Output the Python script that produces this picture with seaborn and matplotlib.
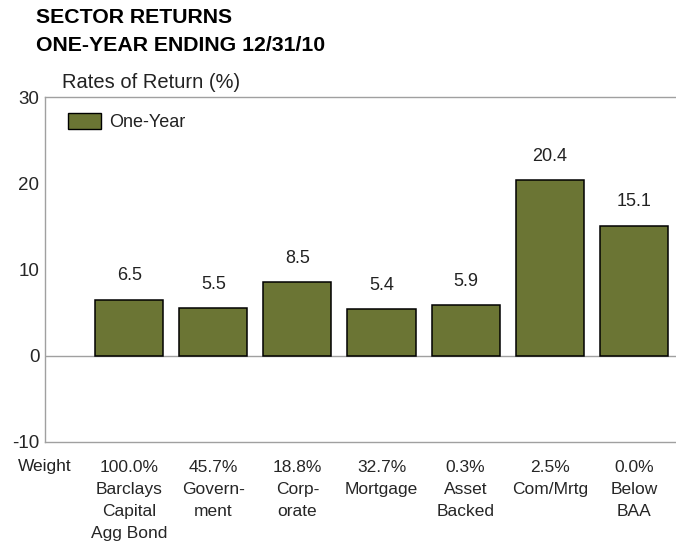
import matplotlib
matplotlib.use('Agg')
import matplotlib.pyplot as plt
from matplotlib.patches import Patch
import seaborn as sns

# Data
sectors = ['Barclays\nCapital\nAgg Bond', 'Govern-\nment', 'Corp-\norate', 'Mortgage',
           'Asset\nBacked', 'Com/Mrtg', 'Below\nBAA']
weights = ['100.0%', '45.7%', '18.8%', '32.7%', '0.3%', '2.5%', '0.0%']
returns = [6.5, 5.5, 8.5, 5.4, 5.9, 20.4, 15.1]

sns.set_style('white')
plt.rcParams['font.family'] = ['Liberation Sans', 'DejaVu Sans']
plt.rcParams['text.color'] = '#222222'
plt.rcParams['axes.unicode_minus'] = False

bar_color = '#6b7534'
axis_grey = '#a0a0a0'

fig = plt.figure(figsize=(6.76, 5.46), dpi=100)
ax = fig.add_axes([45 / 676, 1 - 442 / 546, 631 / 676, 345 / 546])

tick_labels = [w + '\n' + s for w, s in zip(weights, sectors)]
sns.barplot(x=tick_labels, y=returns, color=bar_color, saturation=1,
            edgecolor='black', linewidth=1.1, width=0.81, ax=ax)

ax.bar_label(ax.containers[0], labels=[f'{v:.1f}' for v in returns],
             padding=11, fontsize=13)

ax.set_xlim(-1, 6.5)
ax.set_ylim(-10, 30)
ax.set_yticks([-10, 0, 10, 20, 30])
ax.axhline(0, color=axis_grey, linewidth=1, zorder=0)

for side in ['left', 'top', 'bottom']:
    ax.spines[side].set_color(axis_grey)
    ax.spines[side].set_linewidth(1)
ax.spines['right'].set_visible(False)

ax.tick_params(axis='y', direction='in', length=5, color=axis_grey,
               labelsize=13.5, pad=4)
ax.tick_params(axis='x', length=0, labelsize=12.5, pad=13)
for lbl in ax.get_xticklabels():
    lbl.set_linespacing(1.58)
    lbl.set_verticalalignment('top')

# legend
handle = Patch(facecolor=bar_color, edgecolor='black', linewidth=1)
ax.legend([handle], ['One-Year'], loc='upper left', frameon=False,
          bbox_to_anchor=((68 - 45) / 631, 1 - (113 - 97) / 345),
          borderpad=0, borderaxespad=0, fontsize=13,
          handlelength=1.85, handleheight=0.95, handletextpad=0.4)

# titles and labels
fig.text(36 / 676, 1 - 8 / 546, 'SECTOR RETURNS\nONE-YEAR ENDING 12/31/10',
         ha='left', va='top', fontsize=15.3, fontweight='bold', linespacing=1.6,
         color='black')
fig.text(62 / 676, 1 - 83 / 546, 'Rates of Return (%)', ha='left', va='center',
         fontsize=14.5)
fig.text(18 / 676, 1 - 467 / 546, 'Weight', ha='left', va='center', fontsize=12.5)

fig.savefig('out.png', dpi=100)
